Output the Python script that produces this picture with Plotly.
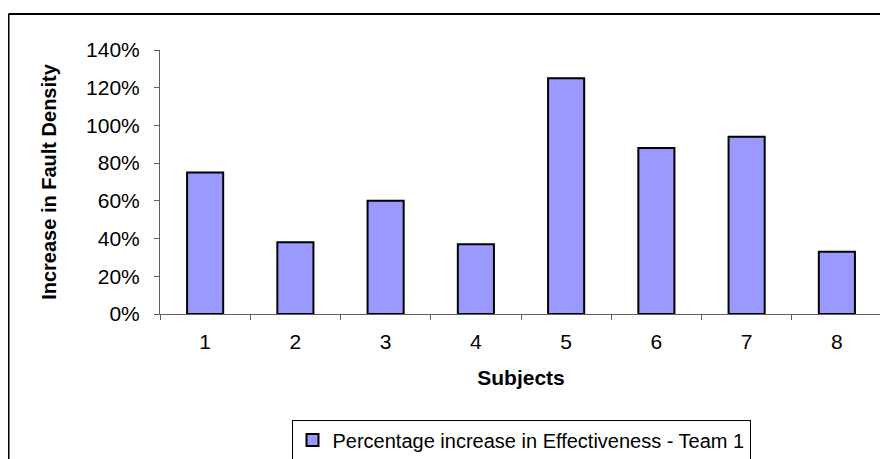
import plotly.graph_objects as go

subjects = ["1", "2", "3", "4", "5", "6", "7", "8"]
increase = [0.75, 0.38, 0.60, 0.37, 1.25, 0.88, 0.94, 0.33]
y_ticks = [0, 0.2, 0.4, 0.6, 0.8, 1.0, 1.2, 1.4]
series_name = "Percentage increase in Effectiveness - Team 1"

FONT = "Liberation Sans, Arial, sans-serif"

fig = go.Figure()
fig.add_trace(go.Bar(
    x=subjects, y=increase, name=series_name,
    marker=dict(color="#9999FF", line=dict(color="#000000", width=2)),
    showlegend=True,
))

fig.update_layout(
    width=888, height=459,
    margin=dict(l=152, r=14, t=42, b=153, autoexpand=False),
    paper_bgcolor="white", plot_bgcolor="white",
    font=dict(family=FONT, size=21, color="#000000"),
    bargap=0.6,
    showlegend=True,
    legend=dict(
        orientation="h", x=0.5, xanchor="center", y=-0.40, yanchor="top",
        bordercolor="#000000", borderwidth=1, bgcolor="white",
        font=dict(family=FONT, size=20),
        itemwidth=30,
    ),
    xaxis=dict(
        type="category", showgrid=False, showline=True, linecolor="#606060", linewidth=1,
        ticks="outside", ticklen=5, tickcolor="#606060", tickson="boundaries",
        ticklabelstandoff=9,
        tickfont=dict(size=21),
        title=dict(text="<b>Subjects</b>", font=dict(size=21), standoff=18),
    ),
    yaxis=dict(
        range=[0, 1.4], tickvals=y_ticks, tickformat=".0%", showgrid=False,
        zeroline=False, showline=True, linecolor="#606060", linewidth=1,
        ticks="outside", ticklen=5, tickcolor="#606060", ticklabelstandoff=10,
        tickfont=dict(size=21),
        title=dict(text="<b>Increase in Fault Density</b>", font=dict(size=20), standoff=24),
    ),
    shapes=[
        dict(type="line", xref="paper", yref="paper", x0=-0.2098, x1=1.03, y0=1.136, y1=1.136,
             line=dict(color="#000000", width=2)),
        dict(type="line", xref="paper", yref="paper", x0=-0.2098, x1=-0.2098, y0=1.136, y1=-0.65,
             line=dict(color="#000000", width=2)),
    ],
)

fig.write_html("out.html")
